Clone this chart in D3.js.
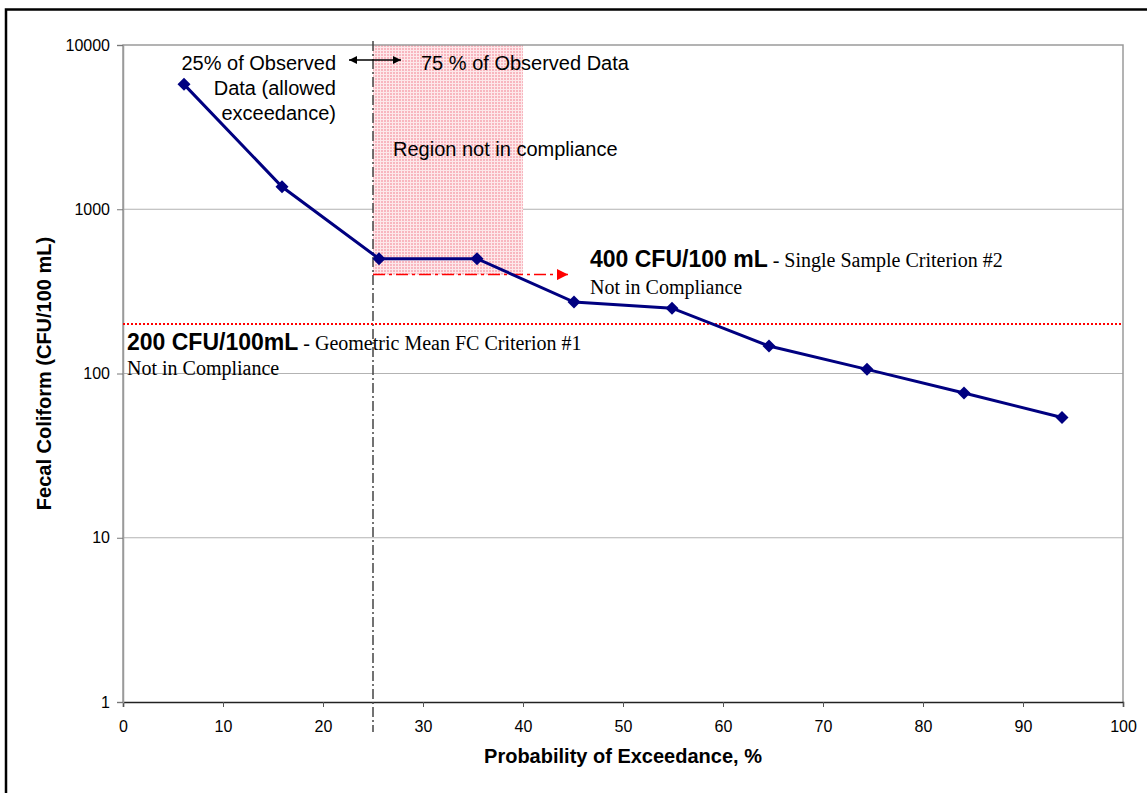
<!DOCTYPE html>
<html>
<head>
<meta charset="utf-8">
<script src="https://cdn.jsdelivr.net/npm/d3@7"></script>
<style>
  html, body { margin: 0; padding: 0; background: #fff; }
  svg { display: block; }
</style>
</head>
<body>
<svg id="chart" width="1147" height="793" font-family="Liberation Sans, Arial, sans-serif"></svg>
<script>
// Exceedance probability (%) and fecal coliform counts (CFU/100 mL)
const exceedance = [6.1, 15.9, 25.6, 35.4, 45.1, 54.9, 64.6, 74.4, 84.1, 93.9];
const fecalColiform = [5760, 1370, 500, 500, 272, 250, 147, 106, 76, 54];

// Axis ticks
const xTickValues = [0, 10, 20, 30, 40, 50, 60, 70, 80, 90, 100];
const yTickValues = [1, 10, 100, 1000, 10000];

// Criteria and compliance region
const geoMeanCriterion = 200;      // Criterion #1
const singleSampleCriterion = 400; // Criterion #2
const allowedExceedance = 25;      // % of observations allowed above criterion
const regionEnd = 40;              // right edge of the non-compliance region
const arrowEnd = 44.5;             // end of the criterion #2 arrow

const SANS = "Liberation Sans, Arial, sans-serif";
const SERIF = "Liberation Serif, Times New Roman, serif";

const svg = d3.select("#chart");
const W = 1147, H = 793;
const plot = { left: 123, right: 1123, top: 45, bottom: 702 };

const x = d3.scaleLinear().domain([0, 100]).range([plot.left, plot.right]);
const y = d3.scaleLog().domain([1, 10000]).range([plot.bottom, plot.top]);

// Outer frame (left and top edges)
svg.append("path")
  .attr("d", `M6,${H + 5} V9.5 H${W + 5}`)
  .attr("fill", "none").attr("stroke", "#000").attr("stroke-width", 2.5);

// Hatched pink pattern for the region not in compliance
const defs = svg.append("defs");
const pat = defs.append("pattern").attr("id", "pinkHatch")
  .attr("width", 3).attr("height", 3).attr("patternUnits", "userSpaceOnUse");
pat.append("rect").attr("width", 3).attr("height", 3).attr("fill", "#fde8ea");
pat.append("rect").attr("width", 2).attr("height", 2).attr("fill", "#f8b6bf");

defs.append("marker").attr("id", "redHead")
  .attr("viewBox", "0 0 10 10").attr("refX", 10).attr("refY", 5)
  .attr("markerWidth", 11).attr("markerHeight", 11)
  .attr("markerUnits", "userSpaceOnUse").attr("orient", "auto")
  .append("path").attr("d", "M0,0 L10,5 L0,10 Z").attr("fill", "#ff0000");

defs.append("marker").attr("id", "blackHead")
  .attr("viewBox", "0 0 10 10").attr("refX", 10).attr("refY", 5)
  .attr("markerWidth", 9).attr("markerHeight", 8)
  .attr("markerUnits", "userSpaceOnUse").attr("orient", "auto-start-reverse")
  .append("path").attr("d", "M0,0 L10,5 L0,10 Z").attr("fill", "#000");

// Gridlines
svg.append("g").selectAll("line")
  .data(yTickValues.filter(v => v > 1 && v < 10000))
  .join("line")
  .attr("x1", plot.left).attr("x2", plot.right)
  .attr("y1", d => y(d)).attr("y2", d => y(d))
  .attr("stroke", "#b3b3b3").attr("stroke-width", 1);

// Non-compliance region
svg.append("rect")
  .attr("x", x(allowedExceedance)).attr("y", plot.top)
  .attr("width", x(regionEnd) - x(allowedExceedance))
  .attr("height", y(singleSampleCriterion) - plot.top)
  .attr("fill", "url(#pinkHatch)");

// Plot border
svg.append("path")
  .attr("d", `M${plot.left},${plot.bottom} V${plot.top} H${plot.right} V${plot.bottom}`)
  .attr("fill", "none").attr("stroke", "#9a9a9a").attr("stroke-width", 1.5);

// Axes
const xAxis = svg.append("g")
  .attr("transform", `translate(0,${plot.bottom})`)
  .call(d3.axisBottom(x).tickValues(xTickValues).tickSize(5).tickPadding(14).tickFormat(d3.format("d")));
xAxis.attr("font-family", SANS).attr("font-size", 16);
xAxis.select(".domain").attr("stroke", "#222").attr("stroke-width", 1.5);
xAxis.selectAll(".tick line").attr("stroke", "#555");
xAxis.selectAll("text").attr("fill", "#000");

const yAxis = svg.append("g")
  .attr("transform", `translate(${plot.left},0)`)
  .call(d3.axisLeft(y).tickValues(yTickValues).tickSize(6).tickPadding(7).tickFormat(d3.format("d")));
yAxis.attr("font-family", SANS).attr("font-size", 16);
yAxis.select(".domain").attr("stroke", "#9a9a9a").attr("stroke-width", 1.5);
yAxis.selectAll(".tick line").attr("stroke", "#777");
yAxis.selectAll("text").attr("fill", "#000");

// Allowed-exceedance divider
svg.append("line")
  .attr("x1", x(allowedExceedance)).attr("x2", x(allowedExceedance))
  .attr("y1", plot.top - 4).attr("y2", plot.bottom + 30)
  .attr("stroke", "#444").attr("stroke-width", 1.5)
  .attr("stroke-dasharray", "10,3,2,3");

// Criterion #1 line (geometric mean)
svg.append("line")
  .attr("x1", plot.left).attr("x2", plot.right)
  .attr("y1", y(geoMeanCriterion)).attr("y2", y(geoMeanCriterion))
  .attr("stroke", "#ff0000").attr("stroke-width", 2)
  .attr("stroke-dasharray", "2,2");

// Criterion #2 arrow (single sample)
svg.append("line")
  .attr("x1", x(allowedExceedance)).attr("x2", x(arrowEnd))
  .attr("y1", y(singleSampleCriterion)).attr("y2", y(singleSampleCriterion))
  .attr("stroke", "#ff0000").attr("stroke-width", 1.5)
  .attr("stroke-dasharray", "12,4,3,4")
  .attr("marker-end", "url(#redHead)");

// Double-headed arrow at the divider
svg.append("line")
  .attr("x1", x(allowedExceedance) - 24).attr("x2", x(allowedExceedance) + 28)
  .attr("y1", 60).attr("y2", 60)
  .attr("stroke", "#000").attr("stroke-width", 1.5)
  .attr("marker-start", "url(#blackHead)").attr("marker-end", "url(#blackHead)");

// Data series
const pts = exceedance.map((e, i) => [e, fecalColiform[i]]);
svg.append("path")
  .datum(pts)
  .attr("d", d3.line().x(d => x(d[0])).y(d => y(d[1])))
  .attr("fill", "none").attr("stroke", "#000080").attr("stroke-width", 3);

svg.append("g").selectAll("path")
  .data(pts)
  .join("path")
  .attr("transform", d => `translate(${x(d[0])},${y(d[1])})`)
  .attr("d", "M0,-6.5 L6.5,0 L0,6.5 L-6.5,0 Z")
  .attr("fill", "#000080");

// Annotations
const ann = svg.append("g").attr("fill", "#000").attr("font-family", SANS);

const leftNote = ann.append("text").attr("font-size", 20).attr("text-anchor", "end");
[["25% of Observed", 70], ["Data (allowed", 95], ["exceedance)", 119.5]].forEach(([t, yy]) => {
  leftNote.append("tspan").attr("x", 336).attr("y", yy).text(t);
});

ann.append("text").attr("x", 421).attr("y", 70).attr("font-size", 20)
  .text("75 % of Observed Data");

ann.append("text").attr("x", 393).attr("y", 156).attr("font-size", 20)
  .text("Region not in compliance");

const c2 = ann.append("text").attr("x", 590).attr("y", 267);
c2.append("tspan").attr("font-size", 23).attr("font-weight", "bold").text("400 CFU/100 mL");
c2.append("tspan").attr("font-size", 20).attr("font-family", SERIF)
  .text(" - Single Sample Criterion #2");
ann.append("text").attr("x", 590).attr("y", 294).attr("font-size", 20)
  .attr("font-family", SERIF)
  .text("Not in Compliance");

const c1 = ann.append("text").attr("x", 127).attr("y", 350);
c1.append("tspan").attr("font-size", 23).attr("font-weight", "bold").text("200 CFU/100mL");
c1.append("tspan").attr("font-size", 20).attr("font-family", SERIF)
  .text(" - Geometric Mean FC Criterion #1");
ann.append("text").attr("x", 127).attr("y", 375).attr("font-size", 20)
  .attr("font-family", SERIF)
  .text("Not in Compliance");

// Axis titles
svg.append("text")
  .attr("x", (plot.left + plot.right) / 2).attr("y", 763)
  .attr("text-anchor", "middle").attr("font-size", 20).attr("font-weight", "bold")
  .text("Probability of Exceedance, %");

svg.append("text")
  .attr("transform", `translate(51,${(plot.top + plot.bottom) / 2}) rotate(-90)`)
  .attr("text-anchor", "middle").attr("font-size", 20).attr("font-weight", "bold")
  .text("Fecal Coliform (CFU/100 mL)");
</script>
</body>
</html>
